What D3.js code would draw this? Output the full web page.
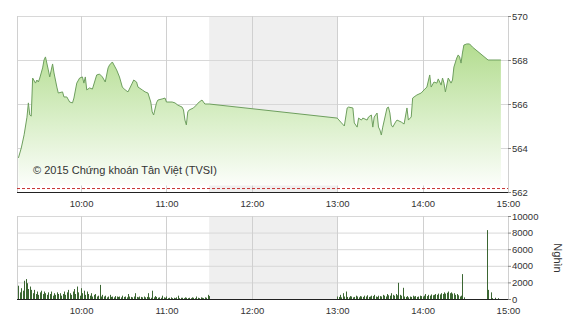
<!DOCTYPE html>
<html>
<head>
<meta charset="utf-8">
<script src="https://cdn.jsdelivr.net/npm/d3@7"></script>
<style>
  body { margin: 0; background: #fff; }
  text { font-family: "Liberation Sans", Arial, sans-serif; fill: #333; }
</style>
</head>
<body>
<script>
// Price line (VN-Index intraday), times and values
var priceTimes = ["9:16","9:18","9:20","9:22","9:23","9:24","9:25","9:26","9:28","9:29",
  "9:30","9:31","9:33","9:34","9:35","9:37","9:38","9:40","9:41","9:43",
  "9:44","9:47","9:48","9:50","9:52","9:54","9:55","9:57","9:59","10:01",
  "10:02","10:03","10:04","10:06","10:08","10:11","10:13","10:15","10:17","10:19",
  "10:20","10:22","10:25","10:27","10:29","10:31","10:33","10:36","10:37","10:39",
  "10:40","10:43","10:45","10:47","10:49","10:50","10:51","10:53","10:54","10:57",
  "10:59","11:00","11:04","11:06","11:08","11:11","11:12","11:13","11:14","11:15",
  "11:16","11:19","11:21","11:23","11:25","11:27","11:30",
  "13:00","13:03","13:05","13:07","13:08","13:11","13:12","13:14","13:15","13:17",
  "13:18","13:21","13:22","13:24","13:25","13:26","13:28","13:29","13:30","13:31",
  "13:32","13:35","13:36","13:37","13:38","13:39","13:41","13:42","13:45","13:47",
  "13:49","13:50","13:52","13:53","13:54","13:56","13:59","14:01","14:03","14:05",
  "14:06","14:08","14:10","14:11","14:13","14:14","14:15","14:16","14:18","14:20",
  "14:21","14:22","14:24","14:25","14:26","14:27","14:28","14:29","14:31","14:33",
  "14:35","14:46","14:55"];
var priceValues = [563.55,564.0,564.6,565.4,566.05,565.5,565.45,567.18,566.95,567.09,
  567.0,567.18,567.64,568.0,568.14,567.55,567.23,567.82,567.41,566.77,
  566.5,566.55,566.32,566.32,566.09,566.05,566.27,566.95,567.18,567.23,
  566.95,567.23,566.64,566.73,566.68,567.32,567.36,567.23,567.0,567.64,
  567.77,567.91,567.55,567.23,566.77,566.64,566.55,566.95,567.09,567.0,
  566.77,566.64,566.55,566.5,566.09,565.64,565.5,566.05,566.18,566.23,
  566.27,566.09,566.09,566.05,565.95,565.86,565.73,565.27,565.05,565.64,
  565.73,565.82,565.95,566.09,566.18,566.0,566.0,
  565.36,565.14,565.0,565.82,565.86,565.82,565.14,564.95,565.36,565.27,
  565.36,565.27,565.41,565.5,564.95,565.41,565.59,564.95,564.82,564.59,
  564.95,565.82,565.86,565.59,565.05,564.95,565.18,565.27,565.18,565.09,
  565.82,565.27,565.41,566.27,566.32,566.41,566.5,566.64,566.77,567.32,
  566.77,567.0,566.95,567.14,566.86,567.18,566.95,566.55,567.18,566.95,
  567.09,567.68,568.09,568.23,568.14,567.86,568.32,568.68,568.73,568.73,
  568.59,568.0,568.0];

var refValue = 562.18;   // reference (previous close) dashed line
var priceTicks = [562, 564, 566, 568, 570];
var volTicks = [0, 2000, 4000, 6000, 8000, 10000];
var hourLabels = ["10:00", "11:00", "12:00", "13:00", "14:00", "15:00"];

// Volume per minute (thousand shares)
var volMorningStart = "9:16";
var volMorning = [1600,800,1300,1000,2200, 2400,1900,1200,1500,1100,
  700,1100,600,900,500,800,1000,600,900,700,
  500,800,600,900,400,700,500,800,600,700,
  400,600,900,500,800,1100,700,500,900,1200,
  600,1500,800,400,1300,700,1000,500,900,600,
  400,700,300,500,600,300,400,1700,300,500,
  300,400,200,300,500,250,300,200,350,300,
  250,300,200,400,250,300,200,600,300,250,
  200,300,700,250,200,300,250,200,300,200,
  250,700,200,150,1000,200,350,250,150,200,
  150,400,200,150,300,100,150,200,100,150,
  100,200,400,100,150,150,100,200,150,100,
  150,100,200,150,100,300,150,100,200,150,
  100,200,150,500,350];
var volAfternoonStart = "13:00";
var volAfternoon = [300,250,500,200,700,300,900,250,200,350,
  300,200,250,400,300,200,350,300,250,400,
  300,450,250,300,400,350,500,300,250,400,
  350,300,500,400,300,600,450,400,700,500,
  400,600,450,1950,500,400,1350,300,250,350,
  200,300,250,400,300,350,250,300,400,350,
  300,400,600,350,500,400,550,450,500,600,
  500,650,550,700,600,800,650,750,900,700,
  800,650,700,500,600,450,300,400,3000,200,
  0,0,0,0,0,0,0,0,0,0,
  0,0,0,0,0,
  8300,1100,0,800,100,0,150,0,100];

var parseTime = d3.timeParse("%H:%M");

var width = 570, height = 320;
var left = 17, right = 508;
var topY0 = 16, topY1 = 192;
var botY0 = 216, botY1 = 299;

var svg = d3.select("body").append("svg")
            .attr("width", width)
            .attr("height", height);

var x = d3.scaleTime()
          .domain([parseTime("9:15"), parseTime("15:00")])
          .range([left, right]);
var yPrice = d3.scaleLinear().domain([562, 570]).range([topY1, topY0]);
var yVol = d3.scaleLinear().domain([0, 10000]).range([botY1, botY0]);

var price = priceTimes.map(function(t, i) {
    return {t: parseTime(t), v: priceValues[i]};
});
var vols = [];
volMorning.forEach(function(v, i) {
    vols.push({t: d3.timeMinute.offset(parseTime(volMorningStart), i), v: v});
});
volAfternoon.forEach(function(v, i) {
    vols.push({t: d3.timeMinute.offset(parseTime(volAfternoonStart), i), v: v});
});

var hours = hourLabels.map(parseTime);

// Lunch break shading in both panels
[[topY0, topY1], [botY0, botY1]].forEach(function(p) {
    svg.append("rect")
       .attr("x", x(parseTime("11:30")))
       .attr("y", p[0])
       .attr("width", x(parseTime("13:00")) - x(parseTime("11:30")))
       .attr("height", p[1] - p[0])
       .attr("fill", "#efefef");
});

// Grid lines
svg.append("g").selectAll("line")
   .data(priceTicks.slice(1))
   .enter().append("line")
   .attr("x1", left).attr("x2", right)
   .attr("y1", function(d) { return yPrice(d) + 0.5; })
   .attr("y2", function(d) { return yPrice(d) + 0.5; })
   .attr("stroke", "#d8d8d8");

svg.append("g").selectAll("line")
   .data(volTicks.slice(1))
   .enter().append("line")
   .attr("x1", left).attr("x2", right)
   .attr("y1", function(d) { return yVol(d) + 0.5; })
   .attr("y2", function(d) { return yVol(d) + 0.5; })
   .attr("stroke", "#d8d8d8");

[[topY0, topY1], [botY0, botY1]].forEach(function(p) {
    svg.append("g").selectAll("line")
       .data(hours)
       .enter().append("line")
       .attr("x1", function(d) { return Math.round(x(d)) + 0.5; })
       .attr("x2", function(d) { return Math.round(x(d)) + 0.5; })
       .attr("y1", p[0]).attr("y2", p[1])
       .attr("stroke", "#d0d0d0");
    svg.append("line")
       .attr("x1", left + 0.5).attr("x2", left + 0.5)
       .attr("y1", p[0]).attr("y2", p[1])
       .attr("stroke", "#d0d0d0");
});

// Area gradient
var grad = svg.append("defs").append("linearGradient")
              .attr("id", "areaFill")
              .attr("gradientUnits", "userSpaceOnUse")
              .attr("x1", 0).attr("x2", 0)
              .attr("y1", yPrice(568.8)).attr("y2", yPrice(562));
grad.append("stop").attr("offset", 0).attr("stop-color", "#b2dc8e");
grad.append("stop").attr("offset", 0.55).attr("stop-color", "#dcf0cc");
grad.append("stop").attr("offset", 1).attr("stop-color", "#ffffff");

svg.append("path")
   .datum(price)
   .attr("fill", "url(#areaFill)")
   .attr("d", d3.area()
                .x(function(d) { return x(d.t); })
                .y0(yPrice(562.3))
                .y1(function(d) { return yPrice(d.v); }));

svg.append("path")
   .datum(price)
   .attr("fill", "none")
   .attr("stroke", "#6e9f5e")
   .attr("stroke-width", 1)
   .attr("d", d3.line()
                .x(function(d) { return x(d.t); })
                .y(function(d) { return yPrice(d.v); }));

// Reference dashed line and base line
svg.append("line")
   .attr("x1", left).attr("x2", right)
   .attr("y1", yPrice(refValue) + 0.5).attr("y2", yPrice(refValue) + 0.5)
   .attr("stroke", "#c83232")
   .attr("stroke-dasharray", "3,2");
svg.append("line")
   .attr("x1", left).attr("x2", right)
   .attr("y1", topY1 + 0.5).attr("y2", topY1 + 0.5)
   .attr("stroke", "#222")
   .attr("stroke-width", 1.2);

// Volume bars
svg.append("g").selectAll("rect")
   .data(vols.filter(function(d) { return d.v > 0; }))
   .enter().append("rect")
   .attr("x", function(d) { return Math.round(x(d.t)); })
   .attr("y", function(d) { return yVol(d.v); })
   .attr("width", 1)
   .attr("height", function(d) { return botY1 - yVol(d.v); })
   .attr("fill", "#3b6632");

svg.append("line")
   .attr("x1", left).attr("x2", right)
   .attr("y1", botY1 + 0.5).attr("y2", botY1 + 0.5)
   .attr("stroke", "#222")
   .attr("stroke-width", 1.2);

// Axes
function styleAxis(g) {
    g.select(".domain").remove();
    g.selectAll(".tick line").attr("stroke", "#888");
    g.selectAll(".tick text")
     .attr("font-size", "9.5px")
     .attr("fill", "#333")
     .attr("font-family", "Liberation Sans, Arial, sans-serif");
}

svg.append("g")
   .attr("transform", "translate(" + right + ",0)")
   .call(d3.axisRight(yPrice).tickValues(priceTicks).tickSize(3).tickPadding(1)
           .tickFormat(d3.format("d")))
   .call(styleAxis);

svg.append("g")
   .attr("transform", "translate(" + right + ",0)")
   .call(d3.axisRight(yVol).tickValues(volTicks).tickSize(3).tickPadding(1)
           .tickFormat(d3.format("d")))
   .call(styleAxis);

svg.append("g")
   .attr("transform", "translate(0," + (topY1 + 4) + ")")
   .call(d3.axisBottom(x).tickValues(hours).tickSize(0).tickPadding(4)
           .tickFormat(d3.timeFormat("%H:%M")))
   .call(styleAxis);

svg.append("g")
   .attr("transform", "translate(0," + (botY1 + 4) + ")")
   .call(d3.axisBottom(x).tickValues(hours).tickSize(0).tickPadding(4)
           .tickFormat(d3.timeFormat("%H:%M")))
   .call(styleAxis);

// Copyright and unit label
svg.append("text")
   .attr("x", 33).attr("y", 174)
   .attr("font-size", "11px")
   .attr("fill", "#333")
   .text("© 2015 Chứng khoán Tân Việt (TVSI)");

svg.append("text")
   .attr("transform", "translate(554,258) rotate(90)")
   .attr("text-anchor", "middle")
   .attr("font-size", "11px")
   .attr("fill", "#333")
   .text("Nghìn");
</script>
</body>
</html>
